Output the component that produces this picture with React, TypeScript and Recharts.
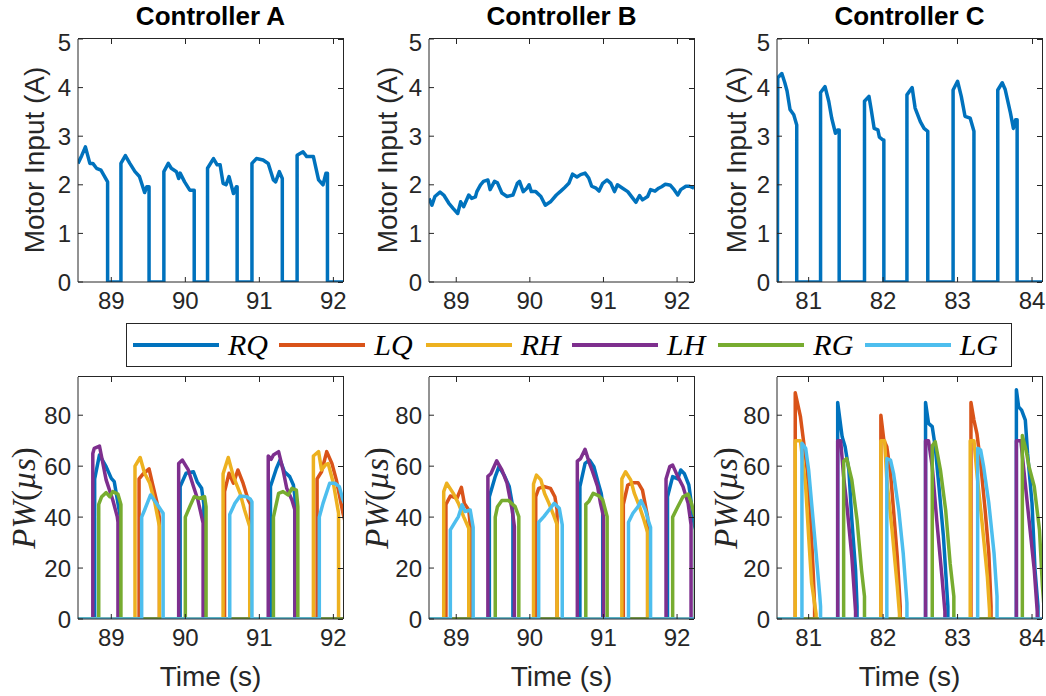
import React from 'react';
import { LineChart, Line, XAxis, YAxis } from 'recharts';

type Pt = [number, number];

// time windows (s) shown by each controller column
const rangeA: Pt = [88.55, 92.13];
const rangeB: Pt = [88.63, 92.23];
const rangeC: Pt = [80.575, 84.134];

const ticksA = [89, 90, 91, 92];
const ticksB = [89, 90, 91, 92];
const ticksC = [81, 82, 83, 84];
const currentTicks = [0, 1, 2, 3, 4, 5];
const pwTicks = [0, 20, 40, 60, 80];

// motor input current (A)
const motorA: Pt[] = [
  [88.55, 2.44], [88.6, 2.6], [88.65, 2.78], [88.71, 2.44], [88.75, 2.44], [88.8, 2.34], [88.86, 2.3],
  [88.91, 2.17], [88.95, 2.06], [88.95, 0], [89.13, 0], [89.13, 2.44], [89.19, 2.6], [89.25, 2.44],
  [89.32, 2.27], [89.38, 2.17], [89.45, 1.84], [89.48, 1.96], [89.51, 1.96], [89.51, 0], [89.71, 0],
  [89.71, 2.27], [89.77, 2.44], [89.81, 2.34], [89.88, 2.27], [89.91, 2.13], [89.93, 2.24], [89.99, 2.06],
  [90.06, 1.89], [90.12, 1.89], [90.12, 0], [90.3, 0], [90.3, 2.34], [90.38, 2.54], [90.43, 2.41],
  [90.47, 2.41], [90.51, 2.03], [90.55, 2.0], [90.59, 2.17], [90.65, 1.82], [90.69, 1.96], [90.7, 1.96],
  [90.7, 0], [90.9, 0], [90.9, 2.44], [90.96, 2.54], [91.05, 2.51], [91.12, 2.44], [91.19, 2.1],
  [91.22, 2.06], [91.27, 2.27], [91.31, 2.13], [91.31, 0], [91.51, 0], [91.51, 2.61], [91.59, 2.68],
  [91.64, 2.58], [91.73, 2.58], [91.8, 2.1], [91.86, 2.0], [91.9, 2.24], [91.92, 2.24], [91.92, 0], [92.13, 0],
];

const motorB: Pt[] = [
  [88.63, 1.72], [88.67, 1.58], [88.71, 1.76], [88.78, 1.85], [88.83, 1.79], [88.9, 1.62], [88.96, 1.51],
  [89.02, 1.41], [89.06, 1.65], [89.1, 1.55], [89.17, 1.79], [89.21, 1.72], [89.26, 1.75], [89.28, 1.86],
  [89.33, 2.0], [89.37, 2.07], [89.43, 2.1], [89.46, 1.9], [89.52, 2.07], [89.56, 2.04], [89.62, 1.83],
  [89.69, 1.76], [89.77, 1.79], [89.83, 2.03], [89.86, 2.07], [89.91, 1.86], [89.96, 1.93], [89.99, 2.0],
  [90.02, 1.86], [90.08, 1.86], [90.15, 1.76], [90.21, 1.58], [90.28, 1.65], [90.36, 1.79], [90.42, 1.87],
  [90.47, 1.94], [90.53, 2.03], [90.58, 2.22], [90.64, 2.16], [90.69, 2.21], [90.75, 2.24], [90.8, 2.14],
  [90.84, 1.97], [90.9, 1.93], [90.94, 1.87], [90.99, 2.03], [91.05, 2.1], [91.1, 2.03], [91.15, 1.86],
  [91.19, 2.0], [91.26, 1.93], [91.33, 1.86], [91.4, 1.72], [91.44, 1.64], [91.49, 1.78], [91.53, 1.69],
  [91.6, 1.76], [91.64, 1.9], [91.7, 1.87], [91.75, 1.93], [91.79, 1.96], [91.84, 2.01], [91.88, 2.0],
  [91.91, 1.99], [91.96, 1.9], [92.01, 1.79], [92.05, 1.9], [92.12, 1.97], [92.17, 1.97], [92.23, 1.93],
];

const motorC: Pt[] = [
  [80.58, 0], [80.585, 4.2], [80.64, 4.29], [80.68, 4.1], [80.71, 3.93], [80.75, 3.55], [80.8, 3.44],
  [80.84, 3.23], [80.84, 0], [81.16, 0], [81.16, 3.9], [81.22, 4.02], [81.27, 3.72], [81.31, 3.37],
  [81.36, 3.06], [81.39, 3.13], [81.41, 3.13], [81.41, 0], [81.75, 0], [81.75, 3.72], [81.81, 3.82],
  [81.84, 3.55], [81.88, 3.16], [81.93, 3.13], [81.95, 2.98], [82.0, 2.92], [82.01, 2.92], [82.01, 0],
  [82.32, 0], [82.32, 3.85], [82.39, 4.0], [82.43, 3.58], [82.5, 3.3], [82.55, 3.16], [82.6, 3.1],
  [82.6, 0], [82.94, 0], [82.94, 3.95], [83.0, 4.13], [83.05, 3.82], [83.1, 3.41], [83.17, 3.37],
  [83.22, 3.1], [83.22, 0], [83.54, 0], [83.54, 3.95], [83.6, 4.1], [83.64, 3.96], [83.71, 3.48],
  [83.75, 3.16], [83.78, 3.34], [83.8, 3.34], [83.8, 0], [84.134, 0],
];

// pulse widths (µs): each list holds the non-zero pulses of one motor
const rqA: Pt[][] = [
  [[88.775, 55], [88.84, 64.4], [88.93, 59.8], [89.0, 55.2], [89.04, 53.9], [89.09, 45.4], [89.12, 40.2]],
  [[89.93, 52], [90.01, 57.2], [90.11, 57.8], [90.16, 53.9], [90.22, 51.3], [90.25, 45]],
  [[91.15, 52], [91.23, 59.1], [91.28, 62.4], [91.34, 57.8], [91.41, 55.9], [91.46, 52.6], [91.48, 48]],
];
const lqA: Pt[][] = [
  [[89.375, 55], [89.43, 57], [89.51, 58.9], [89.56, 52.6], [89.62, 45.4], [89.65, 39.6]],
  [[90.53, 50], [90.59, 57.2], [90.65, 53.3], [90.71, 58.5], [90.78, 53.3], [90.85, 46.7], [90.88, 45]],
  [[91.78, 55], [91.84, 57.8], [91.91, 65.7], [91.98, 61.1], [92.04, 54.6], [92.13, 41.5], [92.16, 38]],
];
const rhA: Pt[][] = [
  [[89.32, 60], [89.39, 63.4], [89.45, 57.2], [89.52, 53.3], [89.59, 45.4], [89.65, 36.3]],
  [[90.51, 57], [90.58, 63.4], [90.65, 55.9], [90.74, 49.3], [90.8, 42.8], [90.87, 36.3]],
  [[91.73, 64], [91.8, 65.7], [91.84, 58.5], [91.89, 60.4], [91.93, 61], [92.0, 53.3], [92.07, 41.5]],
];
const lhA: Pt[][] = [
  [[88.75, 65], [88.77, 67], [88.84, 67.9], [88.93, 54.6], [89.02, 46.7], [89.08, 40.2], [89.09, 38]],
  [[89.91, 61], [89.96, 62.4], [90.04, 58.5], [90.11, 52], [90.17, 46.7], [90.24, 37.6]],
  [[91.12, 64], [91.16, 62.7], [91.19, 64.4], [91.26, 65.7], [91.32, 58.5], [91.37, 51.3], [91.44, 46.7], [91.48, 42.8]],
];
const rgA: Pt[][] = [
  [[88.83, 45], [88.87, 48], [88.93, 49.6], [88.98, 48], [89.02, 50], [89.09, 49], [89.13, 45]],
  [[90.0, 40], [90.06, 44.1], [90.12, 48], [90.19, 47.4], [90.26, 48], [90.28, 44.1]],
  [[91.19, 40], [91.26, 49.3], [91.32, 50], [91.39, 48.7], [91.44, 51.3], [91.5, 50.6], [91.52, 44.1]],
];
const lgA: Pt[][] = [
  [[89.41, 40], [89.45, 42.8], [89.53, 48.7], [89.61, 45.4], [89.7, 41.5]],
  [[90.6, 41], [90.67, 45.4], [90.74, 48.3], [90.83, 48], [90.88, 47], [90.9, 46]],
  [[91.81, 40], [91.86, 45.4], [91.95, 53.3], [92.02, 53.3], [92.08, 52], [92.13, 46.7], [92.16, 45]],
];

const rqB: Pt[][] = [
  [[89.45, 48], [89.53, 55.9], [89.58, 59.8], [89.65, 56.5], [89.72, 52], [89.76, 45.4], [89.77, 40]],
  [[90.68, 52], [90.75, 61.1], [90.81, 62.4], [90.87, 59.8], [90.93, 53.3], [90.97, 49.3], [90.99, 45]],
  [[91.87, 48], [91.94, 55.9], [92.01, 55], [92.05, 58.5], [92.1, 57], [92.16, 52.6], [92.23, 37.6], [92.25, 35]],
];
const lqB: Pt[][] = [
  [[88.86, 45], [88.92, 48.3], [89.01, 47.4], [89.07, 51.7], [89.11, 45.4], [89.17, 42.8], [89.19, 37]],
  [[90.08, 48], [90.12, 51.3], [90.19, 52], [90.28, 51.3], [90.34, 48], [90.37, 42.8]],
  [[91.27, 45], [91.33, 52.6], [91.4, 53.5], [91.47, 53.5], [91.53, 50.6], [91.6, 40]],
];
const rhB: Pt[][] = [
  [[88.83, 50], [88.87, 53.3], [88.96, 49.3], [89.03, 45.4], [89.1, 40.2], [89.17, 35.6]],
  [[90.05, 53], [90.09, 56.5], [90.15, 54.6], [90.2, 49.3], [90.26, 45.4], [90.33, 40.2], [90.37, 37]],
  [[91.25, 55], [91.3, 57.8], [91.37, 54.6], [91.42, 49.3], [91.49, 44.1], [91.55, 38.9], [91.6, 34]],
];
const lhB: Pt[][] = [
  [[89.43, 56], [89.47, 57], [89.55, 62.1], [89.62, 58.5], [89.69, 53.3], [89.76, 42.8], [89.79, 36.3]],
  [[90.645, 62], [90.69, 63], [90.75, 66.6], [90.81, 61.1], [90.85, 58], [90.92, 52], [90.96, 45.4], [91.0, 40.2]],
  [[91.85, 55], [91.9, 59.8], [91.94, 60.4], [92.01, 55.9], [92.08, 52], [92.15, 45.4], [92.19, 37]],
];
const rgB: Pt[][] = [
  [[89.53, 40], [89.56, 44.1], [89.62, 46.5], [89.71, 46.5], [89.8, 44.1], [89.85, 40.2]],
  [[90.76, 45], [90.8, 46.1], [90.86, 49.3], [90.94, 48.3], [90.99, 46.7], [91.05, 40.2]],
  [[91.94, 40], [92.01, 44.1], [92.08, 48], [92.15, 49], [92.19, 46], [92.23, 41.5], [92.25, 40]],
];
const lgB: Pt[][] = [
  [[88.92, 35], [88.99, 38.3], [89.03, 40.2], [89.08, 44.8], [89.12, 42.2], [89.19, 42.8], [89.23, 36]],
  [[90.12, 38], [90.19, 40.2], [90.26, 42.8], [90.33, 45.4], [90.4, 43.5], [90.44, 37]],
  [[91.34, 38], [91.4, 41.5], [91.47, 44.1], [91.51, 46.5], [91.57, 42.8], [91.62, 37.6], [91.64, 36]],
];

const rqC: Pt[][] = [
  [[81.39, 85], [81.45, 71.5], [81.49, 67.6], [81.54, 58.5], [81.58, 38.9], [81.63, 19.3], [81.65, 5]],
  [[82.57, 85], [82.61, 76.8], [82.66, 75.5], [82.7, 67.6], [82.75, 52], [82.81, 32.4], [82.87, 5]],
  [[83.79, 90], [83.82, 83.3], [83.86, 82], [83.91, 78.1], [83.94, 65], [84.0, 45.4], [84.04, 19.3], [84.08, 5]],
];
const lqC: Pt[][] = [
  [[80.82, 88.8], [80.89, 79.4], [80.93, 70.2], [80.98, 58.5], [81.02, 42.8], [81.06, 19.3], [81.08, 5]],
  [[81.97, 80], [82.01, 70.2], [82.05, 67.6], [82.1, 57.2], [82.14, 42.8], [82.19, 24.5], [82.23, 5]],
  [[83.18, 85], [83.22, 78.1], [83.26, 72.8], [83.31, 61.1], [83.37, 42.8], [83.42, 25.8], [83.45, 5]],
];
const rhC: Pt[][] = [
  [[80.82, 70], [80.89, 70], [80.96, 52], [81.0, 32.4], [81.04, 14.1], [81.1, 2]],
  [[81.97, 70], [82.02, 70], [82.05, 54.6], [82.12, 35], [82.19, 12.8], [82.22, 2]],
  [[83.17, 70], [83.22, 70], [83.26, 57.2], [83.33, 37.6], [83.4, 16.7], [83.43, 3]],
];
const lhC: Pt[][] = [
  [[81.39, 70], [81.43, 70], [81.47, 55.9], [81.52, 42.8], [81.58, 24.5], [81.63, 3]],
  [[82.57, 70], [82.61, 70], [82.66, 59.8], [82.72, 38.9], [82.79, 16.7], [82.83, 3]],
  [[83.79, 70], [83.85, 70], [83.89, 58.5], [83.96, 38.9], [84.03, 19.3], [84.07, 3]],
];
const rgC: Pt[][] = [
  [[81.47, 62], [81.51, 63], [81.58, 54.6], [81.65, 38.9], [81.71, 19.3], [81.75, 8.9]],
  [[82.66, 68], [82.7, 69.6], [82.77, 58.5], [82.84, 42.8], [82.9, 21.9], [82.95, 8.9]],
  [[83.87, 72], [83.92, 66.3], [83.96, 59.8], [84.03, 52], [84.1, 35], [84.14, 12.8], [84.16, 5]],
];
const lgC: Pt[][] = [
  [[80.91, 69], [80.96, 67], [81.0, 58.5], [81.04, 45.4], [81.1, 25.8], [81.15, 8.9], [81.16, 5]],
  [[82.05, 63], [82.1, 62.4], [82.14, 57.2], [82.21, 42.8], [82.27, 25.8], [82.32, 6.3]],
  [[83.27, 67], [83.31, 66.3], [83.35, 59.8], [83.42, 45.4], [83.49, 25.8], [83.53, 8.9]],
];

const motorNames = ['RQ', 'LQ', 'RH', 'LH', 'RG', 'LG'];
const motorColors = ['#0072BD', '#D95319', '#EDB120', '#7E2F8E', '#77AC30', '#4DBEEE'];

const INK = '#262626';
const SANS = '"Liberation Sans", Arial, Helvetica, sans-serif';
const SERIF = '"Liberation Serif", "Times New Roman", serif';
const TICK = 5;

const toRows = (pts: Pt[]) => pts.map(([t, v]) => ({ t, v }));

// zero between pulses, pulses drop straight back to zero
const fromPulses = (pulses: Pt[][], range: Pt) => {
  const rows = [{ t: range[0], v: 0 }];
  let last = range[0];
  pulses.forEach(p => {
    rows.push({ t: p[0][0], v: 0 });
    p.forEach(([t, v]) => rows.push({ t, v }));
    last = p[p.length - 1][0];
    rows.push({ t: last, v: 0 });
  });
  rows.push({ t: Math.max(range[1], last), v: 0 });
  return rows;
};

interface Series { key: string; color: string; rows: { t: number; v: number }[] }

interface PanelProps {
  left: number;
  top: number;
  w: number;
  h: number;
  range: Pt;
  xTicks: number[];
  yMax: number;
  yTicks: number[];
  series: Series[];
}

const tickFont = { fill: INK, fontSize: 24, fontFamily: SANS };

const Panel: React.FC<PanelProps> = ({ left, top, w, h, range, xTicks, yMax, yTicks, series }) => {
  const span = range[1] - range[0];
  return (
    <>
      <div style={{ position: 'absolute', left: left - 64, top: top - 10 }}>
        <LineChart width={w + 68} height={h + 44} margin={{ top: 10, right: 4, bottom: 0, left: 0 }}>
          <XAxis
            type="number" dataKey="t" domain={range} ticks={xTicks} allowDataOverflow
            height={34} tickSize={-TICK} tickMargin={15} stroke={INK} tick={tickFont}
          />
          <YAxis
            type="number" domain={[0, yMax]} ticks={yTicks} allowDataOverflow
            width={64} tickSize={-TICK} tickMargin={12} stroke={INK} tick={tickFont}
          />
          {series.map(s => (
            <Line
              key={s.key} data={s.rows} dataKey="v" type="linear"
              stroke={s.color} strokeWidth={3.5} strokeLinejoin="round" dot={false}
              isAnimationActive={false}
            />
          ))}
        </LineChart>
      </div>
      {/* MATLAB "box on": top and right frame edges with inward ticks */}
      <div
        style={{
          position: 'absolute', left, top: top - 1, width: w + 1, height: h + 1, zIndex: 2,
          borderTop: `1px solid ${INK}`, borderRight: `1px solid ${INK}`, boxSizing: 'border-box',
          pointerEvents: 'none',
        }}
      >
        {xTicks.map(t => (
          <div key={`x${t}`} style={{ position: 'absolute', top: 0, left: ((t - range[0]) / span) * w - 0.5, width: 1, height: TICK, background: INK }} />
        ))}
        {yTicks.map(v => (
          <div key={`y${v}`} style={{ position: 'absolute', right: 0, top: h - (v / yMax) * h, width: TICK, height: 1, background: INK }} />
        ))}
      </div>
    </>
  );
};

const pwSeries = (lists: Pt[][][], range: Pt): Series[] =>
  lists.map((p, i) => ({ key: motorNames[i], color: motorColors[i], rows: fromPulses(p, range) }));

const columns = [
  { title: 'Controller A', left: 78, range: rangeA, ticks: ticksA, motor: motorA, pw: [rqA, lqA, rhA, lhA, rgA, lgA], ylab: 35, pwlab: 24 },
  { title: 'Controller B', left: 429, range: rangeB, ticks: ticksB, motor: motorB, pw: [rqB, lqB, rhB, lhB, rgB, lgB], ylab: 388, pwlab: 377 },
  { title: 'Controller C', left: 777, range: rangeC, ticks: ticksC, motor: motorC, pw: [rqC, lqC, rhC, lhC, rgC, lgC], ylab: 737, pwlab: 726 },
];

const PLOT_W = 265;

const centered = (x: number, y: number, extra: React.CSSProperties = {}): React.CSSProperties => ({
  position: 'absolute', left: x, top: y, transform: 'translate(-50%, -50%)', whiteSpace: 'nowrap',
  color: INK, lineHeight: 1, ...extra,
});

export default function App() {
  return (
    <div style={{ position: 'absolute', left: 0, top: 0, width: 1046, height: 696, background: '#fff', fontFamily: SANS, overflow: 'hidden' }}>
      {columns.map(c => {
        const cx = c.left + PLOT_W / 2;
        return (
          <React.Fragment key={c.title}>
            <Panel
              left={c.left} top={39} w={PLOT_W} h={243} range={c.range} xTicks={c.ticks}
              yMax={5} yTicks={currentTicks}
              series={[{ key: 'motor', color: motorColors[0], rows: toRows(c.motor) }]}
            />
            <Panel
              left={c.left} top={377} w={PLOT_W} h={242} range={c.range} xTicks={c.ticks}
              yMax={95} yTicks={pwTicks} series={pwSeries(c.pw, c.range)}
            />
            <div style={centered(cx, 16, { fontSize: 26, fontWeight: 'bold', color: '#000' })}>{c.title}</div>
            <div style={centered(c.ylab, 160, { fontSize: 28, transform: 'translate(-50%, -50%) rotate(-90deg)' })}>Motor Input (A)</div>
            <div style={centered(c.pwlab, 498, { fontSize: 33, fontFamily: SERIF, transform: 'translate(-50%, -50%) rotate(-90deg)' })}>
              <i>PW</i>(<i>µs</i>)
            </div>
            <div style={centered(cx, 677, { fontSize: 28 })}>Time (s)</div>
          </React.Fragment>
        );
      })}
      <div style={{ position: 'absolute', left: 126, top: 323, width: 886, height: 44, border: `1px solid ${INK}`, boxSizing: 'border-box', background: '#fff', display: 'flex', alignItems: 'center', paddingLeft: 6, zIndex: 3 }}>
        {motorNames.map((n, i) => (
          <div key={n} style={{ width: 147.4, display: 'flex', alignItems: 'center' }}>
            <svg width={86} height={6}>
              <line x1={0} y1={3} x2={86} y2={3} stroke={motorColors[i]} strokeWidth={4} />
            </svg>
            <span style={{ marginLeft: 9, fontFamily: SERIF, fontStyle: 'italic', fontSize: 30, color: '#000' }}>{n}</span>
          </div>
        ))}
      </div>
    </div>
  );
}
